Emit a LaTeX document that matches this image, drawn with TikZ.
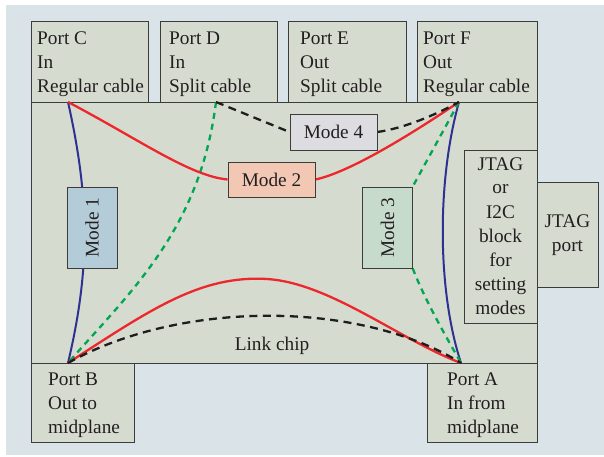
\documentclass[tikz,border=0pt]{standalone}
\usepackage{fontspec}
\usepackage{graphicx}
\setmainfont{Liberation Serif}

\definecolor{pagebg}{RGB}{217,227,232}
\definecolor{boxfill}{RGB}{214,219,207}
\definecolor{boxline}{RGB}{60,60,60}
\definecolor{inktext}{RGB}{35,31,32}
\definecolor{modeonefill}{RGB}{180,204,216}
\definecolor{modetwofill}{RGB}{242,200,180}
\definecolor{modethreefill}{RGB}{199,219,204}
\definecolor{modefourfill}{RGB}{221,221,225}
\definecolor{linkred}{RGB}{236,40,44}
\definecolor{linkblue}{RGB}{46,49,146}
\definecolor{linkgreen}{RGB}{0,166,81}
\definecolor{linkblack}{RGB}{30,30,30}

% stacked lines with a fixed baseline skip; the baseline is that of the first line
\newcommand\stackleft[1]{\vtop{\halign{##\hfil\cr#1\crcr}}}
\newcommand\stackcenter[1]{\vtop{\halign{\hfil##\hfil\cr#1\crcr}}}

\pgfdeclarelayer{base}
\pgfdeclarelayer{links}
\pgfsetlayers{base,links,main}

\tikzset{
  x=1pt, y=-1pt,
  lbl/.style={inner sep=0pt, font=\fontsize{19.3}{24}\selectfont, text=inktext},
  blockbox/.style={draw=boxline, line width=0.9pt, fill=boxfill, inner sep=0pt, anchor=north west},
  modebox/.style={draw=boxline, line width=0.9pt, inner sep=0pt, font=\fontsize{19.3}{24}\selectfont, text=inktext},
  redlink/.style={draw=linkred, line width=2.3pt},
  bluelink/.style={draw=linkblue, line width=2pt},
  greenlink/.style={draw=linkgreen, line width=2.3pt, dash pattern=on 6pt off 5pt},
  blacklink/.style={draw=linkblack, line width=2.3pt, dash pattern=on 8pt off 5.5pt},
}

\begin{document}
\begin{tikzpicture}
  \useasboundingbox (0,0) rectangle (604,457);

  \begin{pgfonlayer}{base}
    \fill[pagebg] (6,5) rectangle (604,455);
    % link chip and the blocks around it
    \node[blockbox, minimum width=506pt, minimum height=261pt] (chip) at (31,102) {};
    \node[blockbox, minimum width=117pt, minimum height=81pt] (portC) at (31,21) {};
    \node[blockbox, minimum width=117pt, minimum height=81pt] (portD) at (160,21) {};
    \node[blockbox, minimum width=118pt, minimum height=81pt] (portE) at (288,21) {};
    \node[blockbox, minimum width=120pt, minimum height=81pt] (portF) at (417,21) {};
    \node[blockbox, minimum width=103pt, minimum height=79pt] (portB) at (31,363) {};
    \node[blockbox, minimum width=110pt, minimum height=79pt] (portA) at (427,363) {};
    \node[blockbox, minimum width=73pt, minimum height=173pt] (jtag) at (464,150) {};
    \node[blockbox, minimum width=61pt, minimum height=105pt] (jtagport) at (537,182) {};
  \end{pgfonlayer}

  % cable entry points on the port edges
  \coordinate (pC) at (68,102);
  \coordinate (pD) at (216,102);
  \coordinate (pF) at (459,102);
  \coordinate (pB) at (68,363);
  \coordinate (pA) at (461,363);

  % mode boxes
  \node[modebox, fill=modeonefill, minimum width=50pt, minimum height=81pt] (mode1) at (92,227.5) {\rotatebox{90}{Mode 1}};
  \node[modebox, fill=modethreefill, minimum width=49.5pt, minimum height=81pt] (mode3) at (387.5,227.5) {\rotatebox{90}{Mode 3}};
  \node[modebox, fill=modetwofill, minimum width=87pt, minimum height=35pt] (mode2) at (271.5,179.5) {Mode 2};
  \node[modebox, fill=modefourfill, minimum width=87pt, minimum height=36pt] (mode4) at (333.5,132) {Mode 4};

  \begin{pgfonlayer}{links}
    % mode 1: regular cable C to B
    \draw[bluelink] (pC) .. controls (90,200) and (90,270) .. (pB);
    % mode 3: regular cable F to A
    \draw[bluelink] (pF) .. controls (437,180) and (437,290) .. (pA);
    \draw[greenlink] (pF) -- (mode3.north east);
    \draw[greenlink] (mode3.south east) .. controls (425,300) and (445,335) .. (pA);
    % split cable D to B
    \draw[greenlink] (pD) .. controls (200,230) and (130,292) .. (pB);
    % mode 2: C to F
    \draw[redlink] (pC) .. controls (140,140) and (190,176) .. (mode2.west);
    \draw[redlink] (mode2.east) .. controls (350,172) and (410,135) .. (pF);
    % mode 4: D to F
    \draw[blacklink] (pD) -- (mode4.west);
    \draw[blacklink] (mode4.east) .. controls (405,128) and (435,115) .. (pF);
    % midplane paths B to A
    \draw[redlink] (pB) .. controls (150,310) and (200,275) .. (267,279)
                        .. controls (330,283) and (400,340) .. (pA);
    \draw[blacklink] (pB) .. controls (180,300) and (360,300) .. (pA);
  \end{pgfonlayer}

  % labels
  \node[lbl, anchor=base west] (tC) at (37,45) {\stackleft{Port C\cr In\cr Regular cable}};
  \node[lbl, anchor=base west] (tD) at (169,45) {\stackleft{Port D\cr In\cr Split cable}};
  \node[lbl, anchor=base west] (tE) at (300,45) {\stackleft{Port E\cr Out\cr Split cable}};
  \node[lbl, anchor=base west] (tF) at (423,45) {\stackleft{Port F\cr Out\cr Regular cable}};
  \node[lbl, anchor=base west] (tB) at (48,385) {\stackleft{Port B\cr Out to\cr midplane}};
  \node[lbl, anchor=base west] (tA) at (447,385) {\stackleft{Port A\cr In from\cr midplane}};
  \node[lbl, anchor=base] (tJ) at (500.5,170) {\stackcenter{JTAG\cr or\cr I2C\cr block\cr for\cr setting\cr modes}};
  \node[lbl, anchor=base] (tJP) at (567.5,227) {\stackcenter{JTAG\cr port}};
  \node[lbl, anchor=base] (tLink) at (272,350) {Link chip};
\end{tikzpicture}
\end{document}
